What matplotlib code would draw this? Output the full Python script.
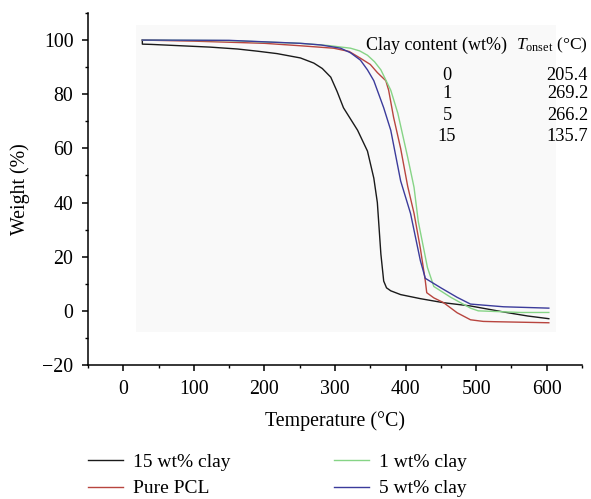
import matplotlib
matplotlib.use("Agg")
import matplotlib.pyplot as plt
from matplotlib.patches import Rectangle
from matplotlib.ticker import MultipleLocator

plt.rcParams['font.family'] = ['Liberation Serif', 'DejaVu Serif']
plt.rcParams['mathtext.fontset'] = 'custom'
plt.rcParams['mathtext.rm'] = 'Liberation Serif'
plt.rcParams['mathtext.it'] = 'Liberation Serif:italic'

# ---- data ----
t_15 = [27, 27, 40, 123, 162, 190, 218, 251, 270, 282, 294, 303, 312, 332, 346, 355, 360, 365, 369, 373, 379, 393, 421, 454, 492, 545, 573, 603]
w_15 = [100, 98.5, 98.4, 97.4, 96.7, 95.9, 95.0, 93.4, 91.5, 89.5, 86.3, 81, 75, 66.7, 59, 49, 40, 21, 11, 8.5, 7.4, 6.0, 4.5, 3.0, 1.8, -0.7, -1.9, -2.9]

t_pcl = [27, 100, 200, 251, 298, 320, 336, 350, 360, 372, 376, 383, 393, 403, 412, 421, 428, 430, 440, 454, 473, 492, 510, 525, 603]
w_pcl = [100, 99.6, 98.8, 97.9, 97, 95.8, 93.3, 91, 88, 85, 81.5, 71.5, 60, 46, 36, 23, 11, 6.7, 4.8, 3.0, -0.7, -3.3, -3.9, -4.0, -4.4]

t_1 = [27, 150, 251, 290, 322, 335, 346, 356, 365, 379, 389, 403, 412, 418, 431, 440, 464, 492, 503, 563, 603]
w_1 = [100, 99.8, 98.8, 98, 97, 96, 94.4, 92, 89, 81.5, 73, 56.7, 45.6, 33, 16, 9, 5, 1, 0, -0.6, -0.6]

t_5 = [27, 150, 251, 280, 308, 322, 336, 346, 355, 362, 369, 379, 393, 407, 421, 428, 450, 473, 492, 539, 603]
w_5 = [100, 99.9, 98.8, 98.2, 97, 95.3, 92.6, 89, 85, 80, 75, 66.7, 48, 36, 18.5, 12, 8.5, 5, 2.5, 1.5, 1.0]

labels = ["15 wt% clay", "Pure PCL", "1 wt% clay", "5 wt% clay"]
colors = ["#1a1a1a", "#b8453f", "#86d486", "#3b3b9b"]

table_clay = ["0", "1", "5", "15"]
table_tonset = ["205.4", "269.2", "266.2", "135.7"]

W, H = 591, 499
fig = plt.figure(figsize=(W / 100, H / 100), dpi=100)
ax = fig.add_axes([88 / W, 1 - 365 / H, (582 - 88) / W, (365 - 13) / H])

ax.add_patch(Rectangle((18, -7.8), 595, 113.3, facecolor='#f9f9f9', edgecolor='none', zorder=0))

series = [(t_15, w_15), (t_pcl, w_pcl), (t_1, w_1), (t_5, w_5)]
handles = []
for (t, w), c, lab in zip(series, colors, labels):
    h, = ax.plot(t, w, color=c, lw=1.0, label=lab, zorder=2)
    handles.append(h)

ax.set_xlim(-50, 650)
ax.set_ylim(-20, 110)
ax.xaxis.set_minor_locator(MultipleLocator(50))
ax.yaxis.set_minor_locator(MultipleLocator(10))
ax.set_xticks(range(0, 601, 100))
ax.set_yticks(range(-20, 101, 20))
ax.set_yticklabels(["\u221220" if v < 0 else str(v) for v in range(-20, 101, 20)])
for s in ['top', 'right']:
    ax.spines[s].set_visible(False)
for s in ['left', 'bottom']:
    ax.spines[s].set_linewidth(1.1)
ax.tick_params(which='major', direction='out', length=4.5, width=1.1, labelsize=14.3)
ax.tick_params(axis='y', which='major', pad=6)
ax.tick_params(axis='x', which='major', pad=6)
ax.tick_params(which='minor', direction='out', length=2.5, width=1.0)
ax.set_xlabel("Temperature (°C)", fontsize=14.3, labelpad=9)
ax.set_ylabel("Weight (%)", fontsize=14.3, labelpad=9)

# table text
def fx(px):
    return px / W
def fy(py):
    return 1 - py / H

fig.text(fx(366), fy(45), "Clay content (wt%)", fontsize=13.0, va='center', ha='left')
fig.text(fx(516), fy(45), r"$T_{\mathrm{onset}}$ (°C)", fontsize=12.6, va='center', ha='left')
for i, (cv, tv) in enumerate(zip(table_clay, table_tonset)):
    y = [75, 94, 115, 137][i]
    fig.text(fx(447), fy(y), cv, fontsize=13.2, va='center', ha='center')
    fig.text(fx(588), fy(y), tv, fontsize=13.2, va='center', ha='right')

fig.legend(handles=handles, labels=labels, ncol=2, loc='upper left',
           bbox_to_anchor=(70 / W, 1 - 436 / H), frameon=False, fontsize=14,
           handlelength=1.8, handletextpad=0.55, columnspacing=5.3, labelspacing=0.45)

fig.savefig("out.png", dpi=100)
